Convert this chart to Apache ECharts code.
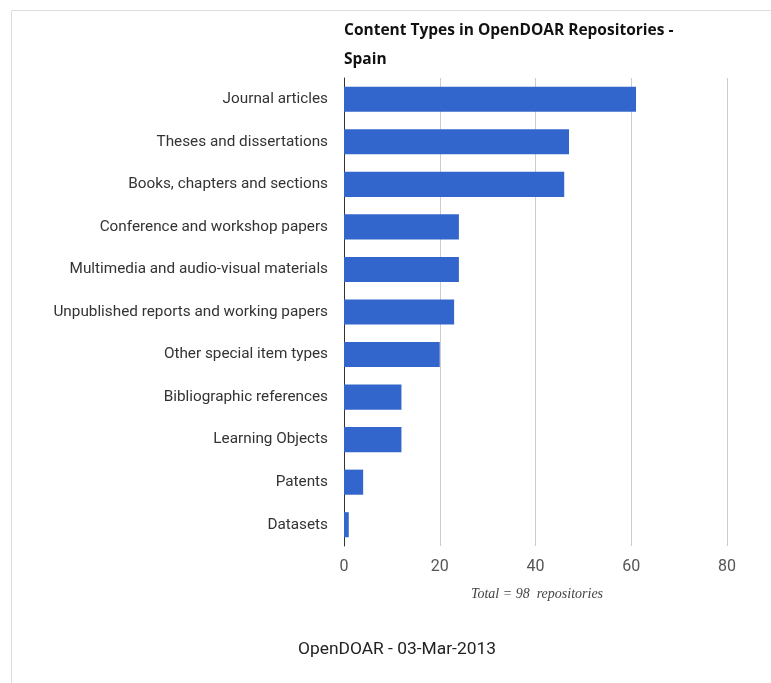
<!DOCTYPE html>
<html><head><meta charset="utf-8">
<script src="https://cdn.jsdelivr.net/npm/echarts@6/dist/echarts.min.js"></script>
<style>html,body{margin:0;padding:0;background:#fff}#c{width:771px;height:683px}</style>
</head><body><div id="c"></div>
<script>
const categories = ["Journal articles","Theses and dissertations","Books, chapters and sections","Conference and workshop papers","Multimedia and audio-visual materials","Unpublished reports and working papers","Other special item types","Bibliographic references","Learning Objects","Patents","Datasets"];
const values = [61,47,46,24,24,23,20,12,12,4,1];
const xTicks = [0,20,40,60,80];

const chart = echarts.init(document.getElementById('c'));
chart.setOption({
  animation:false,
  title:{text:"Content Types in OpenDOAR Repositories -\nSpain",left:339,top:11,
    textStyle:{fontFamily:"Open Sans",fontWeight:"bold",fontSize:15.5,color:"#111",lineHeight:29}},
  grid:{left:344,right:44,top:78,bottom:137},
  xAxis:{type:"value",min:xTicks[0],max:xTicks[xTicks.length-1],interval:20,
    axisLine:{show:false},axisTick:{show:false},
    splitLine:{lineStyle:{color:"#cccccc",width:1}},
    axisLabel:{fontFamily:"Roboto",fontSize:16,color:"#555",margin:13}},
  yAxis:{type:"category",data:categories,inverse:true,
    axisLine:{lineStyle:{color:"#333",width:1}},axisTick:{show:false},
    axisLabel:{fontFamily:"Roboto",fontSize:15.3,color:"#333",margin:16}},
  series:[{type:"bar",data:values,barCategoryGap:"41%",itemStyle:{color:"#3366cc"}}],
  graphic:[
    {type:"rect",shape:{x:11.5,y:10.5,width:800,height:800},style:{fill:"none",stroke:"#dddddd",lineWidth:1},silent:true},
    {type:"text",x:537,y:594,style:{text:"Total = 98  repositories",fontFamily:"Liberation Serif",fontStyle:"italic",fontSize:14,fill:"#444",textAlign:"center",textVerticalAlign:"middle"}},
    {type:"text",x:397,y:650,style:{text:"OpenDOAR - 03-Mar-2013",fontFamily:"Roboto",fontSize:17.4,fill:"#222",textAlign:"center",textVerticalAlign:"middle"}}
  ]
});
</script></body></html>
